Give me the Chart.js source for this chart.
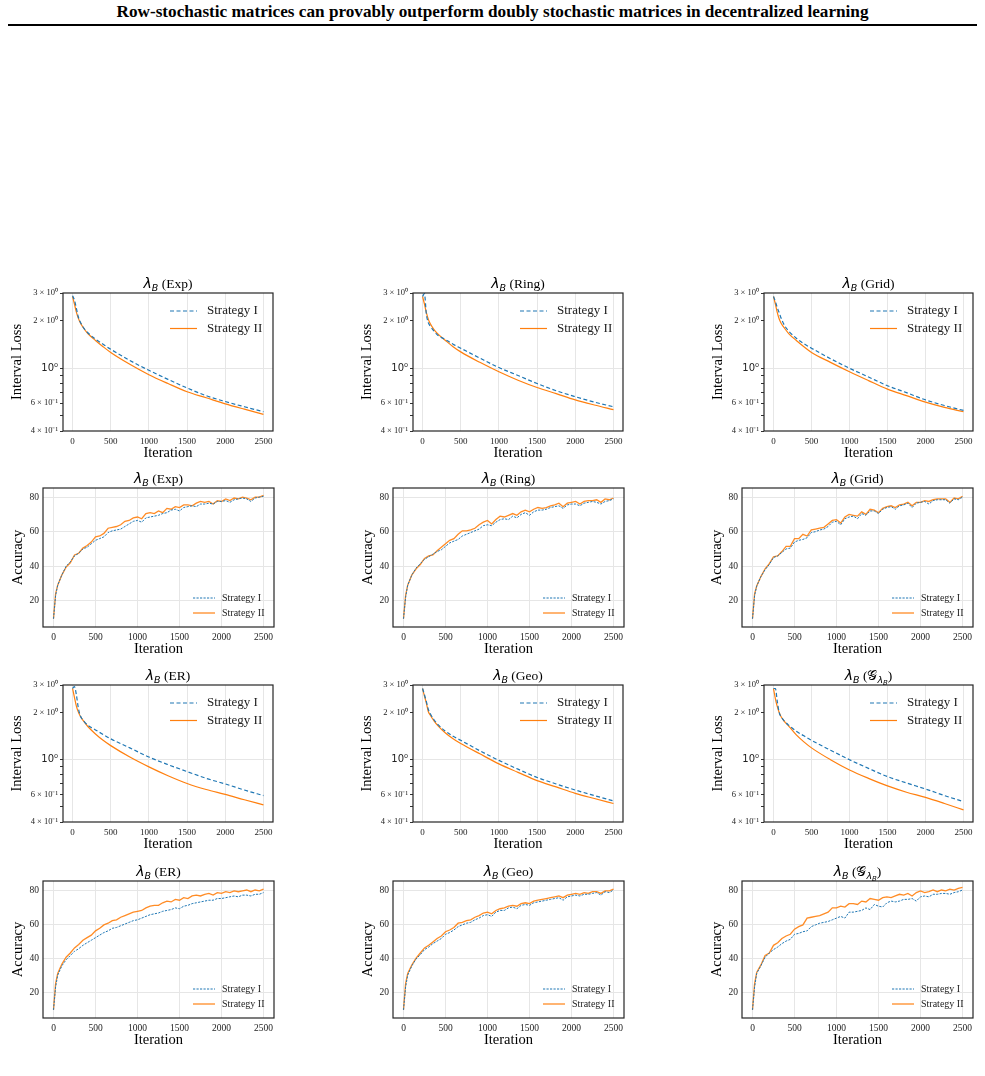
<!DOCTYPE html>
<html><head><meta charset="utf-8">
<script src="https://cdn.jsdelivr.net/npm/chart.js@4.4.1/dist/chart.umd.min.js"></script>
<style>
html,body{margin:0;padding:0;background:#fff;}
body{width:985px;height:1076px;position:relative;overflow:hidden;}
#hdr{position:absolute;left:0;top:2px;width:985px;text-align:center;font:bold 17.2px "Liberation Serif";color:#000;white-space:nowrap;}
#rule{position:absolute;left:8px;top:24px;width:969px;height:2px;background:#000;}
canvas{position:absolute;}
</style></head><body>
<div id="hdr">Row-stochastic matrices can provably outperform doubly stochastic matrices in decentralized learning</div>
<div id="rule"></div>
<script>
// ---------- data ----------
const SERIES_NAMES = ['Strategy I', 'Strategy II'];
const TOPOLOGIES = ['Exp', 'Ring', 'Grid', 'ER', 'Geo', 'G'];

// loss curves (iteration grid)
const L_IT = [0,25,50,75,100,150,200,300,400,500,750,1000,1250,1500,1750,2000,2250,2500];
const LOSS_EXP_S1  = [2.88,2.70,2.40,2.12,1.97,1.79,1.68,1.53,1.42,1.32,1.12,0.97,0.85,0.75,0.67,0.615,0.57,0.53];
const LOSS_EXP_S2  = [2.85,2.55,2.27,2.08,1.95,1.78,1.66,1.50,1.37,1.26,1.06,0.91,0.80,0.71,0.65,0.595,0.55,0.51];
const LOSS_RING_S1 = [2.85,2.97,2.20,1.95,1.85,1.72,1.62,1.52,1.42,1.34,1.16,1.01,0.90,0.80,0.72,0.66,0.61,0.57];
const LOSS_RING_S2 = [2.85,2.55,2.25,2.05,1.92,1.76,1.65,1.50,1.37,1.27,1.09,0.95,0.84,0.755,0.69,0.63,0.585,0.547];
const LOSS_GRID_S1 = [2.85,2.65,2.42,2.25,2.08,1.85,1.72,1.55,1.43,1.34,1.15,1.00,0.88,0.775,0.70,0.63,0.58,0.54];
const LOSS_GRID_S2 = [2.85,2.55,2.25,2.05,1.93,1.78,1.66,1.50,1.37,1.26,1.09,0.95,0.835,0.737,0.67,0.61,0.565,0.53];
const LOSS_ER_S1   = [2.85,2.93,2.60,2.15,1.92,1.76,1.66,1.55,1.45,1.36,1.19,1.04,0.93,0.84,0.76,0.70,0.64,0.59];
const LOSS_ER_S2   = [2.85,2.50,2.20,2.02,1.90,1.75,1.63,1.46,1.33,1.23,1.04,0.90,0.79,0.705,0.645,0.60,0.555,0.515];
const LOSS_GEO_S1  = [2.85,2.60,2.35,2.10,1.97,1.80,1.68,1.52,1.41,1.33,1.14,0.99,0.87,0.77,0.70,0.64,0.59,0.545];
const LOSS_GEO_S2  = [2.85,2.55,2.30,2.03,1.93,1.77,1.65,1.48,1.36,1.27,1.09,0.94,0.83,0.735,0.67,0.61,0.565,0.525];
const LOSS_G_S1    = [2.85,2.85,2.35,2.00,1.88,1.75,1.66,1.52,1.42,1.33,1.15,1.00,0.88,0.78,0.71,0.65,0.59,0.54];
const LOSS_G_S2    = [2.85,2.45,2.18,2.00,1.88,1.74,1.64,1.44,1.30,1.19,1.00,0.86,0.76,0.68,0.62,0.574,0.525,0.478];

// accuracy curves (iteration grid)
const A_IT = [0,25,50,100,150,200,250,300,350,400,
  450,500,550,600,650,700,750,800,850,900,
  950,1000,1050,1100,1150,1200,1250,1300,1350,1400,
  1450,1500,1550,1600,1650,1700,1750,1800,1850,1900,
  1950,2000,2050,2100,2150,2200,2250,2300,2350,2400,
  2450,2500];
const ACC_EXP_S1 = [9.6,23,29,35,40,42.5,46,47.5,50,51,
  53,55,56,57,59.5,60.5,61,61.5,63,64.5,
  66,66.5,65.5,68,68.5,69,69.5,70.5,71,72.5,
  73,72,74,74.5,75,74.5,76,76,76.5,76,
  77.5,77.5,78,77,78.5,79,79.5,79,77.5,79.5,
  80,80.5];
const ACC_EXP_S2 = [9.6,24,29,35,39.5,42,46.5,47.5,50.5,52,
  54,57,57.5,59,62,62.5,63,64,66,66.5,
  68,68.5,67.5,70.5,71,70.5,72,71,73.5,73,
  74.5,74,75.5,75.5,75,76.5,77.5,77,77.5,76,
  78,77.5,79,78,79.5,79,80,79.5,78.5,80,
  80,81];
const ACC_RING_S1 = [9.6,22,29,35,39,41.5,44,45.5,47,48.5,
  49.5,51.5,53.5,54.5,55.5,57.5,58.5,59.5,60.5,61.5,
  63.5,64,63.5,65.5,67,67.5,67,69,68,70,
  71,69.5,71.5,72.5,72.5,73,74,74.5,75,73.5,
  75.5,76,76,75,76.5,77,77.5,77,76,77.5,
  78,79];
const ACC_RING_S2 = [9.6,23,29,35,38.5,41,44.5,46,46.5,49,
  51,53,55,56,58.5,60.5,60.5,61,62,64,
  65.5,66.5,64.5,67,69,68.5,69.5,70.5,69.5,71.5,
  72.5,71.5,73,74,73.5,74,75,75.5,76.5,74.5,
  76.5,77,77.5,76,77.5,78,78,78.5,77,79,
  78.5,79.5];
const ACC_GRID_S1 = [9.6,23,28.5,34,38,41,45,46,48,50,
  50.5,54,55,55.5,56.5,59.5,60,61,61.5,63,
  65.5,66,64,67.5,68.5,69,67.5,70.5,69.5,72,
  72,70.5,73,74,74.5,73,75,75.5,76.5,74,
  76.5,77,77.5,76,78,78.5,78.5,78.5,76.5,79,
  78.5,80];
const ACC_GRID_S2 = [9.6,24,28.5,34,38.5,41.5,45.5,46,48.5,51.5,
  51.5,56,56,58.5,57.5,61,61.5,62,62.5,64.5,
  66.5,67,65,68.5,70,69.5,69,71.5,70,73,
  72.5,71,73.5,74.5,75,74,75.5,76,77,75,
  77,77,78,77.5,78.5,79,79,79,77,79.5,
  79,80.5];
const ACC_ER_S1 = [9.6,23,30,35.5,39,41.5,44,45.5,47.5,49,
  50.5,52,53.5,55,56,57.5,58,59,60,61,
  62,62.5,63.5,64.5,65.5,66,66.5,67.5,68,68.5,
  69.5,69,70.5,71,72,72.5,73,73.5,74,74,
  75,75,75.5,76,76.5,76,77,77,76.5,77.5,
  77.5,78.5];
const ACC_ER_S2 = [9.6,25,31,36.5,40.5,43,46,48,50.5,52,
  53.5,56,57.5,59.5,60.5,62,62.5,64,65,66,
  67,67.5,68,69.5,70.5,71,71,72.5,73.5,73,
  74.5,74,75.5,75,76.5,77,76.5,77.5,78,77,
  78.5,78,79,78.5,79.5,79,79.5,80,79,80,
  79.5,80.5];
const ACC_GEO_S1 = [9.6,23,30,35.5,39.5,42,45,46.5,48.5,50,
  51.5,54,55,56.5,58.5,59.5,60.5,61,62.5,63.5,
  65,65.5,64.5,67,68,68,69.5,70,69,71,
  71.5,71,72.5,73,73.5,74,74.5,75,75.5,74,
  76,76.5,77,76.5,77.5,77.5,78,78.5,77,79,
  78.5,80];
const ACC_GEO_S2 = [9.6,25,31,36,40,43,46,47.5,49.5,51.5,
  53,55.5,56.5,58,60.5,61,62,62.5,64,65,
  66.5,67,66,68,69,69.5,70.5,71,70.5,72,
  72.5,72,73.5,74,74.5,75,75.5,76,76.5,75.5,
  77,77.5,78,77.5,78.5,78,79,79,78,79.5,
  79.5,80.5];
const ACC_G_S1 = [9.6,23,31,35.5,40.5,43,45,46.5,48.5,50,
  51,54,54.5,55.5,56,58.5,59.5,60.5,61,61.5,
  62.5,63.5,64.5,63.5,67,67,67.5,68,69.5,68.5,
  71.5,70.5,70,72.5,73.5,73,73.5,74.5,74.5,75,
  73.5,76,76.5,76,77.5,77.5,78,78,77.5,78.5,
  79,80];
const ACC_G_S2 = [9.6,25,31.5,36,41.5,43,47.5,49,51.5,53,
  54,57,58.5,59.5,63.5,64,64.5,65,66,67,
  69.5,69.5,70.5,70,72,72,71.5,73.5,73,75,
  74.5,74,75.5,76,75.5,76.5,77.5,77,78,76.5,
  78.5,79.5,78.5,79,80,79,80,79.5,80.5,80,
  81,81.5];

// ticks
const X_TICKS = [0,500,1000,1500,2000,2500];
const LOSS_TICKS = [0.4,0.5,0.6,0.7,0.8,0.9,1,2,3];
const LOSS_TICK_LABELS = {'3':'3 × 10⁰','2':'2 × 10⁰','1':'10⁰','0.6':'6 × 10⁻¹','0.4':'4 × 10⁻¹'};
const ACC_TICKS = [20,40,60,80];

const LOSS_SERIES = [[LOSS_EXP_S1,LOSS_EXP_S2],[LOSS_RING_S1,LOSS_RING_S2],[LOSS_GRID_S1,LOSS_GRID_S2],
                     [LOSS_ER_S1,LOSS_ER_S2],[LOSS_GEO_S1,LOSS_GEO_S2],[LOSS_G_S1,LOSS_G_S2]];
const ACC_SERIES = [[ACC_EXP_S1,ACC_EXP_S2],[ACC_RING_S1,ACC_RING_S2],[ACC_GRID_S1,ACC_GRID_S2],
                    [ACC_ER_S1,ACC_ER_S2],[ACC_GEO_S1,ACC_GEO_S2],[ACC_G_S1,ACC_G_S2]];

// ---------- layout ----------
const LOSS_LEFT=[63,413,764], LOSS_RIGHT=[273,623,973];
const ACC_LEFT=[43,393,742], ACC_RIGHT=[274,624,973];
const LOSS_ROWS=[[293,431],[685,822]], ACC_ROWS=[[488,627],[881,1018]];
const SERIF = '"Liberation Serif", "Times New Roman", serif';
const BLUE = '#1f77b4', ORANGE = '#ff7f0e';

const FONTS = {
  it:  {f:'italic 14px "DejaVu Sans"', dy:0},
  sub: {f:'italic 9.5px "DejaVu Sans"', dy:3},
  sub2:{f:'italic 7px "DejaVu Sans"', dy:5},
  cal: {f:'14px "DejaVu Sans"', dy:0},
  rm:  {f:'13.5px ' + SERIF, dy:0}
};

const titlePlugin = {
  id:'subTitle',
  afterDraw(chart, args, o){
    const {ctx, chartArea:a} = chart;
    ctx.save();
    ctx.textBaseline='alphabetic'; ctx.fillStyle='#000';
    let w=0;
    o.parts.forEach(p=>{ctx.font=FONTS[p[1]].f; w+=ctx.measureText(p[0]).width;});
    let x=(a.left+a.right)/2 - w/2; const y=a.top-5;
    o.parts.forEach(p=>{ctx.font=FONTS[p[1]].f; ctx.fillText(p[0],x,y+FONTS[p[1]].dy); x+=ctx.measureText(p[0]).width;});
    ctx.restore();
  }
};
const framePlugin = {
  id:'frame',
  afterDatasetsDraw(chart){
    const {ctx, chartArea:a} = chart;
    ctx.save(); ctx.strokeStyle='#262626'; ctx.lineWidth=1.2;
    ctx.strokeRect(a.left, a.top, a.right-a.left, a.bottom-a.top);
    ctx.restore();
  }
};
const legendPlugin = {
  id:'inLegend',
  afterDraw(chart, args, o){
    const {ctx, chartArea:a} = chart;
    const loss = o.kind==='loss';
    chart.data.datasets.forEach((ds,i)=>{
      const y = loss ? a.top+18+i*17.5 : a.bottom-29+i*15;
      const x0 = a.right + (loss?-103:-81), x1 = a.right + (loss?-76:-59);
      ctx.save();
      ctx.strokeStyle=ds.borderColor; ctx.lineWidth=ds.borderWidth; ctx.setLineDash(ds.borderDash||[]);
      ctx.beginPath(); ctx.moveTo(x0,y); ctx.lineTo(x1,y); ctx.stroke();
      ctx.setLineDash([]);
      ctx.fillStyle='#222'; ctx.textBaseline='middle'; ctx.textAlign='left';
      ctx.font=(loss?'13px ':'10px ')+SERIF;
      ctx.fillText(ds.label, a.right + (loss?-66:-52), y);
      ctx.restore();
    });
  }
};

function titleParts(idx){
  if (TOPOLOGIES[idx]==='G') return [['λ','it'],['B','sub'],[' (','rm'],['𝒢','cal'],['λ','sub'],['B','sub2'],[')','rm']];
  return [['λ','it'],['B','sub'],[' ('+TOPOLOGIES[idx]+')','rm']];
}

function makeChart(kind, idx, box){
  const loss = kind==='loss';
  const YW = loss?60:40, TP=24, RP=6, XH=34;
  const W = YW + (box.r-box.l) + RP, H = TP + (box.b-box.t) + XH;
  const cv = document.createElement('canvas');
  cv.width=W; cv.height=H; cv.style.width=W+'px'; cv.style.height=H+'px';
  cv.style.left=(box.l-YW)+'px'; cv.style.top=(box.t-TP)+'px';
  document.body.appendChild(cv);
  const its = loss?L_IT:A_IT;
  const ser = loss?LOSS_SERIES[idx]:ACC_SERIES[idx];
  const datasets = [
    {label:SERIES_NAMES[0], data:its.map((x,i)=>({x:x,y:ser[0][i]})), borderColor:BLUE,
     borderWidth: loss?1.2:1, borderDash: loss?[4,2.5]:[2.2,1.3]},
    {label:SERIES_NAMES[1], data:its.map((x,i)=>({x:x,y:ser[1][i]})), borderColor: loss?ORANGE:'rgba(255,127,14,0.9)',
     borderWidth: loss?1.2:1.3, borderDash:[]}
  ];
  datasets.forEach(d=>{d.pointRadius=0; d.fill=false; if(loss){d.cubicInterpolationMode='monotone';} else {d.tension=0;}});
  const yScale = loss ? {
    type:'logarithmic', min:0.4, max:3,
    afterBuildTicks:s=>{s.ticks=LOSS_TICKS.map(v=>({value:v}));},
    afterFit:s=>{s.width=YW;},
    ticks:{autoSkip:false, padding:2, color:'#222',
      callback:v=>LOSS_TICK_LABELS[String(v)]||'',
      font:c=> (c.tick && c.tick.value===1) ? {family:'"DejaVu Sans"', size:10} : {family:SERIF, size:8.5}},
    grid:{color:c=>(c.tick && c.tick.value===1)?'#e6e6e6':'rgba(0,0,0,0)', tickColor:'#333', tickLength:3, lineWidth:1},
    border:{display:false},
    title:{display:true, text:'Interval Loss', color:'#000', font:{family:SERIF,size:14.5}, padding:{top:5.3,bottom:0}}
  } : {
    type:'linear', min:4.8, max:85.3,
    afterBuildTicks:s=>{s.ticks=ACC_TICKS.map(v=>({value:v}));},
    afterFit:s=>{s.width=YW;},
    ticks:{autoSkip:false, padding:4, color:'#222', font:{family:SERIF,size:9.5}},
    grid:{color:'#e6e6e6', drawTicks:false, lineWidth:1},
    border:{display:false},
    title:{display:true, text:'Accuracy', color:'#000', font:{family:SERIF,size:14.5}, padding:{top:6.3,bottom:0}}
  };
  new Chart(cv, {
    type:'line',
    data:{datasets},
    options:{
      responsive:false, animation:false, devicePixelRatio:1,
      layout:{padding:{left:0,top:TP,right:RP,bottom:0}},
      scales:{
        x:{type:'linear', min:-125, max:2625,
          afterBuildTicks:s=>{s.ticks=X_TICKS.map(v=>({value:v}));},
          afterFit:s=>{s.height=XH;},
          ticks:{autoSkip:false, maxRotation:0, padding:2, color:'#222', font:{family:SERIF,size:loss?9:9.5}, callback:v=>String(v)},
          grid:{color:'#e6e6e6', tickColor:'rgba(0,0,0,0)', tickLength:3, lineWidth:1},
          border:{display:false},
          title:{display:true, text:'Iteration', color:'#000', font:{family:SERIF,size:14.5}, padding:{top:0,bottom:3}}
        },
        y:yScale
      },
      plugins:{legend:{display:false}, tooltip:{enabled:false},
        subTitle:{parts:titleParts(idx)}, inLegend:{kind:kind}}
    },
    plugins:[framePlugin, titlePlugin, legendPlugin]
  });
}

for (let r=0;r<2;r++){
  for (let c=0;c<3;c++){
    const idx=r*3+c;
    makeChart('loss', idx, {l:LOSS_LEFT[c], r:LOSS_RIGHT[c], t:LOSS_ROWS[r][0], b:LOSS_ROWS[r][1]});
    makeChart('acc', idx, {l:ACC_LEFT[c], r:ACC_RIGHT[c], t:ACC_ROWS[r][0], b:ACC_ROWS[r][1]});
  }
}
</script></body></html>
